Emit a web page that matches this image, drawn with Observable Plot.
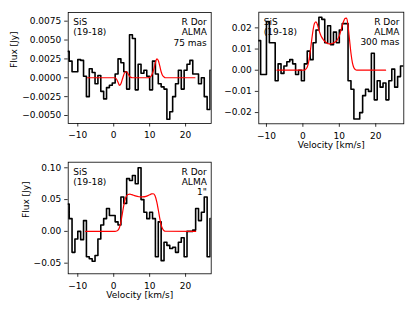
<!DOCTYPE html>
<html><head><meta charset="utf-8">
<script src="https://cdn.jsdelivr.net/npm/d3@7"></script>
<script src="https://cdn.jsdelivr.net/npm/@observablehq/plot@0.6"></script>
<style>
html,body{margin:0;padding:0;background:#fff;}
#fig{position:relative;width:415px;height:311px;overflow:hidden;background:#fff;}
#fig svg{position:absolute;}
</style></head><body><div id="fig"></div>
<script>
// channel centres (km/s)
const velocity = [-12.8,-12.0,-11.2,-10.4,-9.6,-8.8,-8.0,-7.2,-6.4,-5.6,-4.8,-4.0,-3.2,-2.4,-1.6,-0.8,0.0,0.8,1.6,2.4,3.2,4.0,4.8,5.6,6.4,7.2,8.0,8.8,9.6,10.4,11.2,12.0,12.8,13.6,14.4,15.2,16.0,16.8,17.6,18.4,19.2,20.0,20.8,21.6,22.4,23.2,24.0,24.8,25.6,26.4,27.2,28.0];
// observed spectra (Jy)
const flux75 = [0.0035,0.0022,0.0008,0.0008,0.0024,0.0023,0.0002,-0.0025,0.0012,0.0007,-0.0008,0.0003,-0.0018,-0.0028,-0.0013,-0.0010,-0.0007,0.0005,0.0025,0.0020,0.0008,-0.0015,0.0057,0.0052,-0.0016,0.0018,0.0006,0.0010,0.0002,-0.0016,0.0022,0.0005,-0.0008,-0.0012,-0.0015,-0.0055,-0.0045,-0.0025,-0.0008,0.0010,-0.0015,0.0010,0.0018,0.0023,0.0005,0.0005,-0.0008,0.0000,-0.0025,-0.0042,0.0010,0.0010];
const flux300 = [0.014,0.014,-0.002,-0.002,0.023,0.013,0.013,-0.005,0.003,-0.0015,0.002,0.004,0.005,0.003,-0.002,0.000,-0.005,0.003,0.009,0.005,0.013,0.019,0.025,0.024,0.013,0.021,0.012,0.018,0.013,0.019,0.022,0.022,-0.005,-0.009,-0.023,-0.023,-0.020,-0.012,-0.009,-0.010,0.008,-0.014,-0.005,-0.008,-0.006,-0.014,-0.005,0.0005,-0.008,-0.003,0.002,0.002];
const flux1 = [0.043,0.020,-0.033,-0.012,0.000,-0.013,0.017,-0.040,-0.043,-0.047,-0.038,-0.012,0.010,0.020,0.036,0.025,0.025,0.015,0.010,0.054,0.044,0.083,0.080,0.088,0.075,0.100,0.050,0.030,0.020,0.030,0.020,-0.040,0.015,-0.046,-0.017,-0.022,-0.027,-0.025,-0.033,-0.017,-0.010,-0.040,0.000,0.000,0.002,0.036,0.017,0.030,0.054,-0.040,0.020,0.020];
// model line profiles
const modelV75 = [-7.3,0.4,0.8,1.2,1.6,2.0,2.4,2.8,3.2,3.6,4.0,4.4,4.8,5.2,9.6,10.0,10.4,10.8,11.2,11.6,12.0,12.4,12.8,13.2,13.6,14.0,14.4,22.6];
const model75 = [0,0,-0.0002,-0.0006,-0.001,-0.0008,-0.0002,0.0004,0.0008,0.0008,0.0005,0.0002,0.00005,0,0,0.00005,0.0002,0.0006,0.0012,0.002,0.0025,0.0023,0.0016,0.0008,0.0003,0.0001,0,0];
const modelV300 = [-7.1,0.4,0.8,1.2,1.6,2.0,2.4,2.8,3.2,3.6,4.0,4.4,4.8,5.2,5.6,6.0,6.5,7.0,7.5,8.0,8.5,9.0,9.5,10.0,10.4,10.8,11.2,11.6,12.0,12.4,12.8,13.2,13.6,14.0,14.4,14.8,22.7];
const model300 = [0,0,0.0005,0.0015,0.004,0.0085,0.014,0.019,0.0222,0.0228,0.0215,0.019,0.017,0.0155,0.0145,0.0137,0.013,0.0125,0.0124,0.0126,0.013,0.0135,0.0145,0.0162,0.0185,0.021,0.0232,0.0245,0.0246,0.021,0.0145,0.008,0.0035,0.0012,0.0003,0,0];
const modelV1 = [-7.8,0.4,0.8,1.2,1.6,2.0,2.4,2.8,3.2,3.6,4.0,4.5,5.0,6.0,7.0,8.0,9.0,10.0,10.5,11.0,11.5,12.0,12.4,12.8,13.2,13.6,14.0,14.4,22.8];
const model1 = [0,0,0.0005,0.002,0.006,0.015,0.028,0.041,0.051,0.056,0.058,0.0585,0.0578,0.0558,0.0545,0.0542,0.055,0.0575,0.059,0.0592,0.056,0.046,0.034,0.021,0.01,0.004,0.001,0.0002,0];
// ticks and labels
const xTicks = [-10,0,10,20];
const yTicks75 = [-0.005,-0.0025,0,0.0025,0.005,0.0075];
const yTicks300 = [-0.02,-0.01,0,0.01,0.02];
const yTicks1 = [-0.05,0,0.05,0.1];
const lineLabel = "SiS\n(19-18)";
const sourceLabels = ["R Dor\nALMA\n75 mas","R Dor\nALMA\n300 mas","R Dor\nALMA\n1\""];
const xLabel = "Velocity [km/s]";
const yLabel = "Flux [Jy]";

const FONT = "DejaVu Sans";

function panel(cfg) {
  const data = velocity.map((v,i)=>({v, f: cfg.flux[i]}));
  const model = cfg.mv.map((v,i)=>({v, f: cfg.mf[i]}));
  const marks = [
    Plot.line(data, {x:"v", y:"f", curve:"step", stroke:"black", strokeWidth:1.6, clip:true}),
    Plot.line(model, {x:"v", y:"f", curve:"monotone-x", stroke:"red", strokeWidth:1.2, clip:true}),
    Plot.frame({stroke:"black", strokeWidth:0.8}),
    Plot.axisX({ticks:xTicks, tickFormat:d3.format("d"), tickSize:3.5, tickPadding:5, label:null, strokeWidth:0.8}),
    Plot.axisY({ticks:cfg.yTicks, tickFormat:d3.format(cfg.fmt), tickSize:3.5, tickPadding:3.5, label:null, strokeWidth:0.8}),
    Plot.text([lineLabel], {text:d=>d, frameAnchor:"top-left", dx:5, dy:5, textAnchor:"start", lineAnchor:"top", lineHeight:1.15, fontSize:9, fill:"black"}),
    Plot.text([cfg.src], {text:d=>d, frameAnchor:"top-right", dx:-4.4, dy:5, textAnchor:"end", lineAnchor:"top", lineHeight:1.15, fontSize:9, fill:"black"})
  ];
  if (cfg.ylabelDx != null) marks.push(Plot.text([yLabel], {text:d=>d, frameAnchor:"left", dx:cfg.ylabelDx, rotate:-90, fontSize:9, fill:"black"}));
  if (cfg.xlabel) marks.push(Plot.text([xLabel], {text:d=>d, frameAnchor:"bottom", dy:24.5, fontSize:9, fill:"black"}));
  const svg = Plot.plot({
    width: cfg.width, height: cfg.height,
    marginLeft: cfg.ml, marginRight: cfg.mr, marginTop: cfg.mt, marginBottom: cfg.mb,
    x: {domain: cfg.xd},
    y: {domain: cfg.yd},
    style: {fontFamily: FONT, fontSize: "9px", color: "black", background: "transparent", overflow: "visible"},
    marks
  });
  svg.style.left = cfg.left + "px";
  svg.style.top = cfg.top + "px";
  document.getElementById("fig").appendChild(svg);
}

panel({flux:flux75, mv:modelV75, mf:model75, yTicks:yTicks75, fmt:".4f", src:sourceLabels[0],
  left:0, top:0, width:215, height:150, ml:67.7, mr:4.3, mt:12, mb:27,
  xd:[-12.67,27.13], yd:[-0.00606,0.00865], ylabelDx:-54, xlabel:false});
panel({flux:flux300, mv:modelV300, mf:model300, yTicks:yTicks300, fmt:".2f", src:sourceLabels[1],
  left:205, top:0, width:205, height:150, ml:53.3, mr:6.7, mt:11.7, mb:26.7,
  xd:[-12.1,27.7], yd:[-0.0253,0.0274], ylabelDx:null, xlabel:true});
panel({flux:flux1, mv:modelV1, mf:model1, yTicks:yTicks1, fmt:".2f", src:sourceLabels[2],
  left:0, top:150, width:215, height:161, ml:67.7, mr:4.3, mt:11.7, mb:37.7,
  xd:[-12.67,27.13], yd:[-0.0667,0.1088], ylabelDx:-41.7, xlabel:true});
</script></body></html>
